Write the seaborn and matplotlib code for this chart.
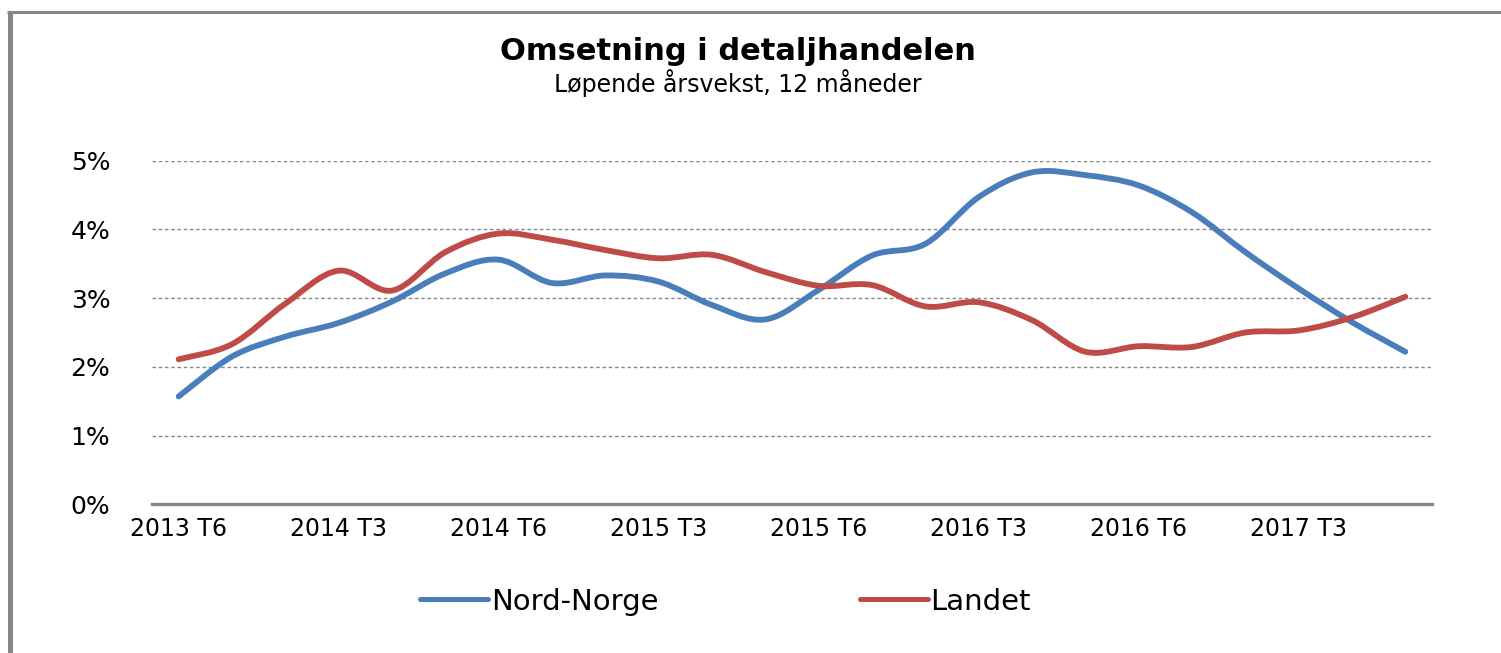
import matplotlib
matplotlib.use("Agg")
import numpy as np
import pandas as pd
import seaborn as sns
import matplotlib.pyplot as plt
from matplotlib.path import Path
from matplotlib.patches import PathPatch
from matplotlib.lines import Line2D
from matplotlib.ticker import FuncFormatter

# Bi-monthly periods (T1..T6), running 12-month growth in percent
periods = ["2013 T6",
           "2014 T1", "2014 T2", "2014 T3", "2014 T4", "2014 T5", "2014 T6",
           "2015 T1", "2015 T2", "2015 T3", "2015 T4", "2015 T5", "2015 T6",
           "2016 T1", "2016 T2", "2016 T3", "2016 T4", "2016 T5", "2016 T6",
           "2017 T1", "2017 T2", "2017 T3", "2017 T4", "2017 T5"]
nord_norge = [1.57, 2.15, 2.44, 2.64, 2.95, 3.36, 3.56, 3.22, 3.33, 3.24, 2.90, 2.69,
              3.12, 3.62, 3.79, 4.47, 4.83, 4.79, 4.64, 4.25, 3.67, 3.14, 2.65, 2.22]
landet = [2.11, 2.33, 2.92, 3.40, 3.11, 3.67, 3.94, 3.85, 3.70, 3.58, 3.63, 3.38,
          3.18, 3.19, 2.88, 2.94, 2.68, 2.22, 2.30, 2.29, 2.50, 2.53, 2.72, 3.02]
tick_periods = ["2013 T6", "2014 T3", "2014 T6", "2015 T3", "2015 T6",
                "2016 T3", "2016 T6", "2017 T3"]
series_names = ["Nord-Norge", "Landet"]
colors = {"Nord-Norge": "#4A7EBB", "Landet": "#BE4B48"}

df = pd.DataFrame({
    "pos": list(range(len(periods))) * 2,
    "value": nord_norge + landet,
    "serie": [series_names[0]] * len(periods) + [series_names[1]] * len(periods),
})

sns.set_theme(style="white")
plt.rcParams["font.family"] = ["DejaVu Sans"]

fig = plt.figure(figsize=(15.01, 6.53), dpi=100)
W, H = 1501, 653
ax = fig.add_axes([152 / W, (H - 504.3) / H, 1280 / W, 343.6 / H])

sns.lineplot(data=df, x="pos", y="value", hue="serie", hue_order=series_names,
             palette=colors, linewidth=4.2, ax=ax)


def smooth_path(xy):
    """Bezier path through the points (Catmull-Rom style, like spreadsheet smoothing)."""
    pts = np.asarray(xy)
    ext = np.vstack([pts[0], pts, pts[-1]])
    verts = [pts[0]]
    codes = [Path.MOVETO]
    for i in range(len(pts) - 1):
        p0, p1, p2, p3 = ext[i], ext[i + 1], ext[i + 2], ext[i + 3]
        c1 = p1 + (p2 - p0) / 6.0
        c2 = p2 - (p3 - p1) / 6.0
        verts += [c1, c2, p2]
        codes += [Path.CURVE4] * 3
    return Path(verts, codes)


# Render each seaborn line as a smoothed curve through the same points
for line in list(ax.lines):
    xy = line.get_xydata()
    if len(xy) < 2:
        continue
    patch = PathPatch(smooth_path(xy), facecolor="none", edgecolor=line.get_color(),
                      linewidth=line.get_linewidth(), capstyle="round",
                      joinstyle="round", zorder=3)
    ax.add_patch(patch)
    line.set_visible(False)

ax.set_xlim(-0.5, len(periods) - 0.5)
ax.set_ylim(0, 5)
ax.set_xticks([periods.index(p) for p in tick_periods])
ax.set_xticklabels(tick_periods)
ax.set_yticks(range(0, 6))
ax.yaxis.set_major_formatter(FuncFormatter(lambda v, _: f"{int(v)}%"))
ax.set_xlabel("")
ax.set_ylabel("")
ax.tick_params(axis="x", length=0, pad=9, labelsize=17, colors="black")
ax.tick_params(axis="y", length=0, pad=30, labelsize=18, colors="black")

ax.grid(axis="y", color="#868686", linewidth=1.0, linestyle=(0, (2.5, 2.0)))
ax.grid(axis="x", visible=False)
for side in ["top", "right", "left"]:
    ax.spines[side].set_visible(False)
ax.spines["bottom"].set_color("#868686")
ax.spines["bottom"].set_linewidth(2.4)
ax.spines["bottom"].set_zorder(4)

sns.move_legend(ax, "center", bbox_to_anchor=(0.448, -0.283), ncol=2,
                frameon=False, title=None, fontsize=21, handlelength=2.33,
                handletextpad=0.1, columnspacing=6.9)
leg = ax.get_legend()
for h in leg.get_lines():
    h.set_linewidth(3.6)
for t in leg.get_texts():
    t.set_color("black")

fig.text(738 / W, 1 - 51 / H, "Omsetning i detaljhandelen", ha="center", va="center",
         fontsize=22, fontweight="bold", color="black")
fig.text(738 / W, 1 - 83 / H, "Løpende årsvekst, 12 måneder", ha="center", va="center",
         fontsize=17, color="black")

# Outer frame lines on the left and top
fig.add_artist(Line2D([9.5 / W, 9.5 / W], [0, 1 - 11 / H], transform=fig.transFigure,
                      color="#878787", linewidth=3.6, solid_capstyle="butt"))
fig.add_artist(Line2D([7 / W, 1], [1 - 12 / H, 1 - 12 / H], transform=fig.transFigure,
                      color="#878787", linewidth=2.2, solid_capstyle="butt"))

fig.savefig("out.png", dpi=100, facecolor="white")
